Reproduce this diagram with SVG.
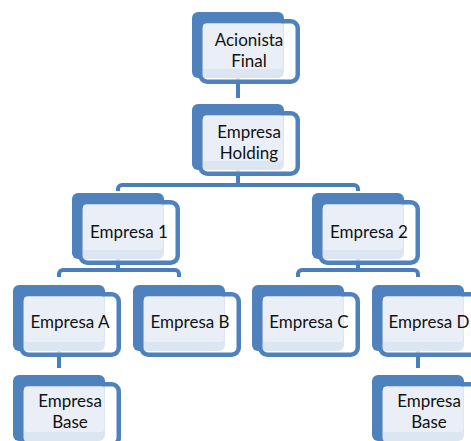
<svg xmlns="http://www.w3.org/2000/svg" xmlns:xlink="http://www.w3.org/1999/xlink" width="471" height="441" viewBox="0 0 471 441">
<style>
.conn{fill:none;stroke:#4A7EBB;stroke-width:4;stroke-linejoin:round}
.lbl{font-family:Lato,"Liberation Sans",Arial,sans-serif;font-size:17px;fill:#111;text-anchor:middle}
</style>
<defs>
<g id="box">
<rect x="0" y="0" width="92" height="66" rx="6" fill="#4F81BD"/>
<rect x="8.25" y="9.25" width="97.5" height="60.5" rx="7" fill="#fff" fill-opacity="0.8" stroke="#4F81BD" stroke-width="4.5"/>
<rect x="11" y="11.5" width="80" height="45.5" rx="3" fill="#EAEFF7"/>
</g>
</defs>
<rect width="471" height="441" fill="#fff"/>
<g id="connectors">
<path class="conn" d="M238 78V98"/>
<path class="conn" d="M238 170V185"/>
<path class="conn" d="M118 191V189a4 4 0 0 1 4-4H354a4 4 0 0 1 4 4V191"/>
<path class="conn" d="M118 259V270"/>
<path class="conn" d="M59 277V274a4 4 0 0 1 4-4H175a4 4 0 0 1 4 4V277"/>
<path class="conn" d="M358 259V270"/>
<path class="conn" d="M298 277V274a4 4 0 0 1 4-4H414a4 4 0 0 1 4 4V277"/>
<path class="conn" d="M59 351V368"/>
<path class="conn" d="M418 351V368"/>
</g>
<g id="acionista" transform="translate(192,12)"><use href="#box"/><text class="lbl" x="57" y="34">Acionista</text><text class="lbl" x="57" y="55">Final</text></g>
<g id="holding" transform="translate(192,104)"><use href="#box"/><text class="lbl" x="57" y="34">Empresa</text><text class="lbl" x="57" y="55">Holding</text></g>
<g id="empresa1" transform="translate(72,193)"><use href="#box"/><text class="lbl" x="57" y="45">Empresa 1</text></g>
<g id="empresa2" transform="translate(312,193)"><use href="#box"/><text class="lbl" x="57" y="45">Empresa 2</text></g>
<g id="empresaA" transform="translate(13,285)"><use href="#box"/><text class="lbl" x="57" y="43">Empresa A</text></g>
<g id="empresaB" transform="translate(133,285)"><use href="#box"/><text class="lbl" x="57" y="43">Empresa B</text></g>
<g id="empresaC" transform="translate(252,285)"><use href="#box"/><text class="lbl" x="57" y="43">Empresa C</text></g>
<g id="empresaD" transform="translate(372,285)"><use href="#box"/><text class="lbl" x="57" y="43">Empresa D</text></g>
<g id="baseA" transform="translate(13,375)"><use href="#box"/><text class="lbl" x="57" y="32">Empresa</text><text class="lbl" x="57" y="53">Base</text></g>
<g id="baseD" transform="translate(372,375)"><use href="#box"/><text class="lbl" x="57" y="32">Empresa</text><text class="lbl" x="57" y="53">Base</text></g>
</svg>
